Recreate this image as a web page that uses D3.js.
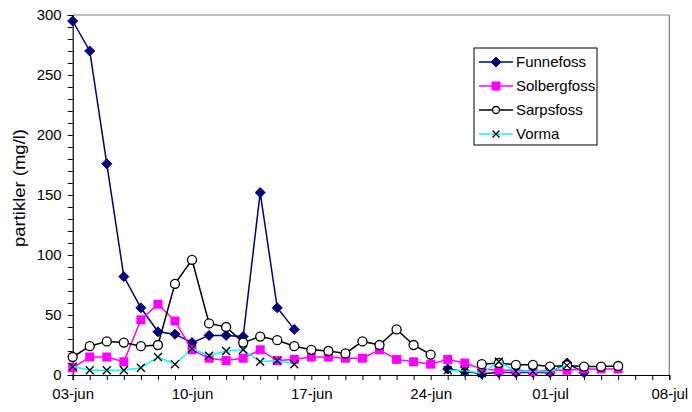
<!DOCTYPE html>
<html>
<head>
<meta charset="utf-8">
<script src="https://cdn.jsdelivr.net/npm/d3@7/dist/d3.min.js"></script>
<style>
  body { margin: 0; background: #fff; }
  svg { display: block; font-family: "Liberation Sans", Arial, sans-serif; }
</style>
</head>
<body>
<svg id="chart" width="692" height="412"></svg>
<script>
// dates 03-jun .. 05-jul, one value per day (null = no sample)
const startDate = new Date(Date.UTC(2000, 5, 3));
const dayCount = 33;
const dates = d3.range(dayCount).map(i => d3.utcDay.offset(startDate, i));

const funnefoss = [295, 270, 176, 82, 56, 36, 34, 27, 33, 33, 32, 152, 56, 38,
  null, null, null, null, null, null, null, null, 5, 3, 1, 2, 2, 2, 2, 10, 2, null, null];
const solbergfoss = [6, 15, 15, 11, 46, 59, 45, 21, 14, 12, 14, 21, 12, 13,
  15, 15, 14, 14, 21, 13, 11, 9, 13, 10, 5, 4, 4, 3, 4, 4, 5, 5, 5];
const sarpsfoss = [15, 24, 28, 27, 24, 25, 76, 96, 43, 40, 27, 32, 29, 24,
  21, 20, 18, 28, 25, 38, 25, 17, null, null, 9, 10, 8.5, 8.5, 7, 8, 7, 7, 7.5];
const vorma = [7, 4, 4, 4, 6, 15, 9, 22, 16, 20, 21, 11, 12, 9,
  null, null, null, null, null, null, null, null, 4, 3.5, 1.5, 11, 3, 3, 3, 8, null, null, null];

const seriesNames = ['Funnefoss', 'Solbergfoss', 'Sarpsfoss', 'Vorma'];
const xTickLabels = ['03-jun', '10-jun', '17-jun', '24-jun', '01-jul', '08-jul'];
const yTicks = [0, 50, 100, 150, 200, 250, 300];

const margin = {left: 72.7, right: 22.7, top: 15, bottom: 37};
const svg = d3.select('#chart');
const W = +svg.attr('width'), H = +svg.attr('height');

const x = d3.scaleUtc()
  .domain([startDate, d3.utcDay.offset(startDate, 35)])
  .range([margin.left, W - margin.right]);
const y = d3.scaleLinear().domain([0, 300]).range([H - margin.bottom, margin.top]);

// frame (top/right gray)
svg.append('path')
  .attr('d', `M${x.range()[0]},${y(300)}H${x.range()[1]}V${y(0)}`)
  .attr('fill', 'none').attr('stroke', '#808080').attr('stroke-width', 1.2);

// y axis
const yAxis = svg.append('g').attr('transform', `translate(${margin.left},0)`)
  .call(d3.axisLeft(y).tickValues(d3.range(0, 301, 10)).tickSize(5)
    .tickFormat(d => yTicks.includes(d) ? d : ''));
yAxis.select('.domain').attr('stroke', '#000').attr('stroke-width', 1.2);
yAxis.selectAll('.tick line').attr('stroke', '#000');
yAxis.selectAll('text').attr('font-size', 15).attr('fill', '#000').attr('x', -11);

// x axis
const tickLabelDates = xTickLabels.map((t, i) => d3.utcDay.offset(startDate, i * 7));
const xAxis = svg.append('g').attr('transform', `translate(0,${y(0)})`)
  .call(d3.axisBottom(x).ticks(d3.utcDay.every(1)).tickSize(5)
    .tickFormat(d => {
      const k = tickLabelDates.findIndex(t => +t === +d);
      return k >= 0 ? xTickLabels[k] : '';
    }));
xAxis.select('.domain').attr('stroke', '#000').attr('stroke-width', 1.2);
xAxis.selectAll('.tick line').attr('stroke', '#000');
xAxis.selectAll('text').attr('font-size', 15).attr('fill', '#000').attr('y', 13);

svg.append('text')
  .attr('transform', 'translate(25,188) rotate(-90)')
  .attr('text-anchor', 'middle').attr('font-size', 16)
  .attr('textLength', 118).attr('lengthAdjust', 'spacingAndGlyphs')
  .text('partikler (mg/l)');

// series
const styles = [
  {data: funnefoss, color: '#000080', marker: 'diamond'},
  {data: solbergfoss, color: '#FF00FF', marker: 'square'},
  {data: sarpsfoss, color: '#000000', marker: 'circle'},
  {data: vorma, color: '#00FFFF', marker: 'cross'}
];

const line = d3.line()
  .defined(d => d.v != null)
  .x(d => x(d.date)).y(d => y(d.v));

function drawMarker(g, type, color) {
  if (type === 'diamond') {
    g.append('path').attr('d', 'M0,-5L5,0L0,5L-5,0Z').attr('fill', color).attr('stroke', color);
  } else if (type === 'square') {
    g.append('rect').attr('x', -4.5).attr('y', -4.5).attr('width', 9).attr('height', 9)
      .attr('fill', color);
  } else if (type === 'circle') {
    g.append('circle').attr('r', 4.5).attr('fill', '#fff').attr('stroke', '#000').attr('stroke-width', 1.3);
  } else {
    g.append('path').attr('d', 'M-4,-4L4,4M-4,4L4,-4').attr('stroke', '#000').attr('stroke-width', 1.3);
  }
}

styles.forEach(s => {
  const pts = dates.map((d, i) => ({date: d, v: s.data[i]}));
  svg.append('path').datum(pts)
    .attr('fill', 'none').attr('stroke', s.color).attr('stroke-width', 1.5)
    .attr('d', line);
  pts.filter(p => p.v != null).forEach(p => {
    const g = svg.append('g').attr('transform', `translate(${x(p.date)},${y(p.v)})`);
    drawMarker(g, s.marker, s.color);
  });
});

// legend
const legend = svg.append('g').attr('transform', 'translate(474,48)');
legend.append('rect').attr('width', 123).attr('height', 97)
  .attr('fill', '#fff').attr('stroke', '#000').attr('stroke-width', 1);
seriesNames.forEach((name, i) => {
  const cy = 14 + i * 24;
  legend.append('line').attr('x1', 5).attr('x2', 39).attr('y1', cy).attr('y2', cy)
    .attr('stroke', styles[i].color).attr('stroke-width', 1.5);
  const g = legend.append('g').attr('transform', `translate(22,${cy})`);
  if (styles[i].marker === 'circle') {
    g.append('circle').attr('r', 3.5).attr('fill', '#fff').attr('stroke', '#000').attr('stroke-width', 1.3);
  } else if (styles[i].marker === 'cross') {
    g.append('path').attr('d', 'M-3.5,-3.5L3.5,3.5M-3.5,3.5L3.5,-3.5').attr('stroke', '#000').attr('stroke-width', 1.3);
  } else {
    drawMarker(g, styles[i].marker, styles[i].color);
  }
  legend.append('text').attr('x', 42).attr('y', cy + 5).attr('font-size', 15).text(name);
});
</script>
</body>
</html>
